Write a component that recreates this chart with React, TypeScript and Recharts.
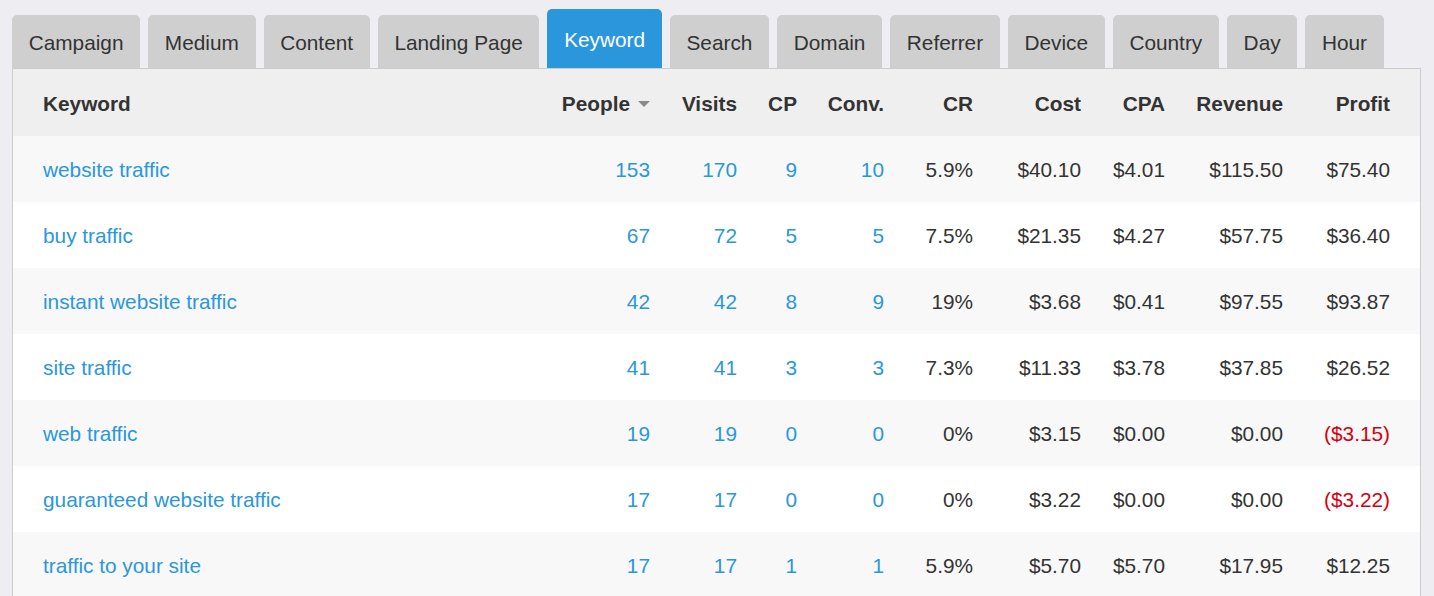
import { BarChart, Bar, XAxis, YAxis } from 'recharts'

const keywords = [
  'website traffic',
  'buy traffic',
  'instant website traffic',
  'site traffic',
  'web traffic',
  'guaranteed website traffic',
  'traffic to your site',
]
const people = [153, 67, 42, 41, 19, 17, 17]
const visits = [170, 72, 42, 41, 19, 17, 17]
const cp = [9, 5, 8, 3, 0, 0, 1]
const conv = [10, 5, 9, 3, 0, 0, 1]
const cr = [5.9, 7.5, 19, 7.3, 0, 0, 5.9]
const cost = [40.1, 21.35, 3.68, 11.33, 3.15, 3.22, 5.7]
const cpa = [4.01, 4.27, 0.41, 3.78, 0, 0, 5.7]
const revenue = [115.5, 57.75, 97.55, 37.85, 0, 0, 17.95]
const profit = [75.4, 36.4, 93.87, 26.52, -3.15, -3.22, 12.25]

const tabs = ['Campaign', 'Medium', 'Content', 'Landing Page', 'Keyword', 'Search', 'Domain', 'Referrer', 'Device', 'Country', 'Day', 'Hour']
const activeTab = 'Keyword'

const rows = keywords.map((keyword, i) => ({
  keyword,
  people: people[i],
  visits: visits[i],
  cp: cp[i],
  conv: conv[i],
  cr: cr[i],
  cost: cost[i],
  cpa: cpa[i],
  revenue: revenue[i],
  profit: profit[i],
}))

const FONT = "'Liberation Sans', Arial, sans-serif"
const BLUE = '#2a97dc'
const DARK = '#333333'
const RED = '#d4000f'

const money = (v: number) => (v < 0 ? `($${Math.abs(v).toFixed(2)})` : `$${v.toFixed(2)}`)

// right edge of each column, page coords
const columns = [
  { key: 'people', label: 'People', right: 650, color: BLUE, fmt: (v: number) => String(v) },
  { key: 'visits', label: 'Visits', right: 737, color: BLUE, fmt: (v: number) => String(v) },
  { key: 'cp', label: 'CP', right: 797, color: BLUE, fmt: (v: number) => String(v) },
  { key: 'conv', label: 'Conv.', right: 884, color: BLUE, fmt: (v: number) => String(v) },
  { key: 'cr', label: 'CR', right: 973, color: DARK, fmt: (v: number) => `${v}%` },
  { key: 'cost', label: 'Cost', right: 1081, color: DARK, fmt: money },
  { key: 'cpa', label: 'CPA', right: 1165, color: DARK, fmt: money },
  { key: 'revenue', label: 'Revenue', right: 1283, color: DARK, fmt: money },
  { key: 'profit', label: 'Profit', right: 1390, color: DARK, fmt: money },
]

const CHART_LEFT = 13
const CHART_WIDTH = 1407
const ROW_H = 66

// each y-axis tick draws a whole table row at the band centre
const RowTick = (props: any) => {
  const { y, payload, index } = props
  const row = rows.find((r) => r.keyword === payload.value) ?? rows[index]
  if (!row) return null
  const i = rows.indexOf(row)
  return (
    <g>
      <rect x={0} y={y - ROW_H / 2} width={CHART_WIDTH} height={ROW_H} fill={i % 2 === 0 ? '#f8f8f8' : '#ffffff'} />
      <text x={43 - CHART_LEFT} y={y} dominantBaseline='central' fill={BLUE} fontSize={20.8} fontFamily={FONT}>
        {row.keyword}
      </text>
      {columns.map((c) => {
        const v = (row as any)[c.key] as number
        const fill = c.key === 'profit' && v < 0 ? RED : c.color
        return (
          <text
            key={c.key}
            x={c.right - CHART_LEFT}
            y={y}
            textAnchor='end'
            dominantBaseline='central'
            fill={fill}
            fontSize={20.8}
            fontFamily={FONT}
          >
            {c.fmt(v)}
          </text>
        )
      })}
    </g>
  )
}

export default function App() {
  return (
    <div
      style={{
        position: 'fixed',
        left: 0,
        top: 0,
        width: 1434,
        height: 596,
        background: '#eeeef2',
        overflow: 'hidden',
        fontFamily: FONT,
      }}
    >
      <div style={{ position: 'absolute', left: 12, top: 0, height: 68, display: 'flex', alignItems: 'flex-end', gap: 8 }}>
        {tabs.map((t) => {
          const active = t === activeTab
          return (
            <div
              key={t}
              style={{
                height: active ? 59 : 53,
                lineHeight: active ? '62px' : '56px',
                padding: '0 16.7px',
                background: active ? '#2a97dd' : '#cfcfcf',
                color: active ? '#ffffff' : DARK,
                fontSize: 20.8,
                borderRadius: '5px 5px 0 0',
                whiteSpace: 'nowrap',
                boxSizing: 'border-box',
              }}
            >
              {t}
            </div>
          )
        })}
      </div>

      <div
        style={{
          position: 'absolute',
          left: 12,
          top: 68,
          width: 1409,
          height: 600,
          border: '1px solid #cccccc',
          boxSizing: 'border-box',
          background: '#ffffff',
        }}
      />

      <div style={{ position: 'absolute', left: 13, top: 69, width: 1407, height: 67, background: '#efefef' }}>
        <div style={{ position: 'absolute', left: 43 - 13, top: 0, lineHeight: '70px', fontWeight: 'bold', fontSize: 20.8, color: DARK }}>
          Keyword
        </div>
        {columns.map((c) => (
          <div
            key={c.key}
            style={{
              position: 'absolute',
              right: 1407 - (c.right - 13),
              top: 0,
              height: 70,
              fontWeight: 'bold',
              fontSize: 20.8,
              color: DARK,
              whiteSpace: 'nowrap',
              display: 'flex',
              alignItems: 'center',
            }}
          >
            {c.label}
            {c.key === 'people' && (
              <svg width={12} height={7} style={{ marginLeft: 8 }}>
                <polygon points='0,0 12,0 6,6' fill='#8a8a8a' />
              </svg>
            )}
          </div>
        ))}
      </div>

      <div style={{ position: 'absolute', left: CHART_LEFT, top: 136 }}>
        <BarChart
          width={CHART_WIDTH}
          height={ROW_H * rows.length}
          data={rows}
          layout='vertical'
          margin={{ top: 0, right: 0, bottom: 0, left: 0 }}
        >
          <XAxis type='number' hide domain={[0, 200]} />
          <YAxis
            type='category'
            dataKey='keyword'
            width={1}
            axisLine={false}
            tickLine={false}
            tickSize={0}
            tickMargin={0}
            interval={0}
            tick={<RowTick />}
          />
          <Bar dataKey='people' fill='none' isAnimationActive={false} />
        </BarChart>
      </div>
    </div>
  )
}
